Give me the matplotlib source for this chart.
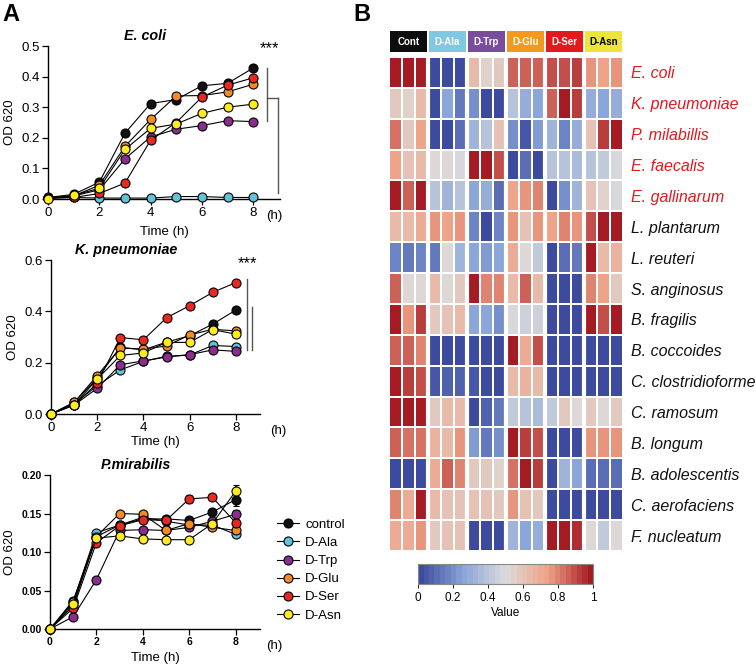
import numpy as np
import matplotlib
matplotlib.use("Agg")
import matplotlib.pyplot as plt
from matplotlib.colors import LinearSegmentedColormap
from matplotlib.patches import Rectangle
from matplotlib.lines import Line2D

plt.rcParams['font.family'] = ['Liberation Sans', 'DejaVu Sans']

# ---------------- Panel A data ----------------
hours = [0, 1, 2, 3, 4, 5, 6, 7, 8]
groups = ["control", "D-Ala", "D-Trp", "D-Glu", "D-Ser", "D-Asn"]
group_colors = ["#111111", "#62C2D8", "#8B2D8E", "#F28A25", "#E8291F", "#FFEC1C"]

ecoli = {
    "control": [0.005, 0.015, 0.055, 0.215, 0.312, 0.325, 0.370, 0.378, 0.428],
    "D-Ala":   [0.003, 0.005, 0.003, 0.003, 0.003, 0.008, 0.008, 0.005, 0.005],
    "D-Trp":   [0.003, 0.010, 0.030, 0.131, 0.203, 0.228, 0.240, 0.256, 0.253],
    "D-Glu":   [0.003, 0.010, 0.045, 0.172, 0.260, 0.337, 0.338, 0.350, 0.375],
    "D-Ser":   [0.003, 0.005, 0.018, 0.052, 0.192, 0.250, 0.333, 0.372, 0.396],
    "D-Asn":   [0.000, 0.012, 0.035, 0.162, 0.231, 0.245, 0.280, 0.300, 0.310],
}
kpneu = {
    "control": [0.0, 0.045, 0.140, 0.260, 0.250, 0.280, 0.305, 0.350, 0.405],
    "D-Ala":   [0.0, 0.040, 0.110, 0.172, 0.205, 0.225, 0.230, 0.267, 0.263],
    "D-Trp":   [0.0, 0.035, 0.100, 0.192, 0.207, 0.222, 0.231, 0.250, 0.244],
    "D-Glu":   [0.0, 0.045, 0.150, 0.257, 0.253, 0.265, 0.308, 0.330, 0.324],
    "D-Ser":   [0.0, 0.035, 0.120, 0.298, 0.289, 0.375, 0.422, 0.474, 0.512],
    "D-Asn":   [0.0, 0.036, 0.136, 0.228, 0.238, 0.279, 0.279, 0.329, 0.311],
}
kpneu_err = {
    "D-Ala": [0, 0, 0, 0, 0, 0, 0, 0, 0.010],
    "D-Trp": [0, 0, 0, 0, 0, 0, 0, 0, 0.012],
}
pmira = {
    "control": [0.0, 0.037, 0.120, 0.135, 0.143, 0.143, 0.141, 0.152, 0.168],
    "D-Ala":   [0.0, 0.035, 0.125, 0.135, 0.145, 0.140, 0.135, 0.135, 0.123],
    "D-Trp":   [0.0, 0.016, 0.064, 0.128, 0.129, 0.128, 0.132, 0.140, 0.149],
    "D-Glu":   [0.0, 0.030, 0.120, 0.150, 0.149, 0.128, 0.137, 0.132, 0.128],
    "D-Ser":   [0.0, 0.027, 0.112, 0.134, 0.142, 0.141, 0.169, 0.171, 0.138],
    "D-Asn":   [0.0, 0.033, 0.118, 0.121, 0.117, 0.116, 0.116, 0.137, 0.179],
}
pmira_err = {
    "control": [0, 0, 0, 0, 0.005, 0.004, 0, 0, 0.008],
    "D-Trp":   [0, 0, 0, 0, 0, 0, 0, 0, 0.006],
    "D-Ser":   [0, 0, 0, 0, 0, 0, 0.005, 0, 0],
    "D-Asn":   [0, 0, 0, 0, 0, 0, 0, 0, 0.008],
}

# ---------------- Panel B data ----------------
species = ["E. coli", "K. pneumoniae", "P. milabillis", "E. faecalis", "E. gallinarum",
           "L. plantarum", "L. reuteri", "S. anginosus", "B. fragilis", "B. coccoides",
           "C. clostridioforme", "C. ramosum", "B. longum", "B. adolescentis",
           "C. aerofaciens", "F. nucleatum"]
pathogen_rows = 5
treatments = ["Cont", "D-Ala", "D-Trp", "D-Glu", "D-Ser", "D-Asn"]
treat_colors = ["#0d0d0d", "#7FC8E4", "#7A4C9E", "#F39A1E", "#E3191C", "#EEE53A"]
treat_text = ["white", "white", "white", "white", "white", "black"]

heat = np.array([
    [0.97, 0.98, 0.97, 0.02, 0.02, 0.02, 0.65, 0.55, 0.57, 0.87, 0.85, 0.87, 0.88, 0.88, 0.92, 0.75, 0.73, 0.75],
    [0.58, 0.54, 0.63, 0.03, 0.25, 0.15, 0.20, 0.03, 0.03, 0.38, 0.30, 0.28, 0.85, 0.97, 0.93, 0.30, 0.28, 0.30],
    [0.82, 0.57, 0.72, 0.03, 0.03, 0.10, 0.33, 0.38, 0.60, 0.20, 0.05, 0.22, 0.33, 0.18, 0.30, 0.60, 0.93, 0.97],
    [0.72, 0.60, 0.63, 0.52, 0.52, 0.47, 0.97, 0.97, 0.88, 0.03, 0.10, 0.03, 0.40, 0.38, 0.35, 0.40, 0.42, 0.48],
    [0.97, 0.85, 0.97, 0.38, 0.33, 0.38, 0.28, 0.30, 0.12, 0.73, 0.78, 0.80, 0.03, 0.20, 0.33, 0.60, 0.56, 0.48],
    [0.63, 0.63, 0.70, 0.78, 0.72, 0.78, 0.18, 0.03, 0.18, 0.77, 0.62, 0.78, 0.72, 0.80, 0.75, 0.88, 0.97, 0.97],
    [0.18, 0.13, 0.18, 0.15, 0.50, 0.33, 0.27, 0.22, 0.25, 0.70, 0.50, 0.42, 0.03, 0.10, 0.15, 0.97, 0.65, 0.68],
    [0.85, 0.52, 0.52, 0.65, 0.52, 0.57, 0.97, 0.80, 0.80, 0.65, 0.85, 0.65, 0.02, 0.02, 0.02, 0.80, 0.72, 0.57],
    [0.97, 0.78, 0.93, 0.57, 0.60, 0.63, 0.27, 0.25, 0.20, 0.48, 0.46, 0.46, 0.02, 0.02, 0.02, 0.97, 0.88, 0.97],
    [0.87, 0.85, 0.80, 0.02, 0.02, 0.02, 0.02, 0.02, 0.02, 0.97, 0.70, 0.90, 0.02, 0.02, 0.02, 0.02, 0.02, 0.02],
    [0.97, 0.93, 0.88, 0.05, 0.07, 0.07, 0.05, 0.03, 0.03, 0.65, 0.68, 0.65, 0.02, 0.02, 0.02, 0.02, 0.02, 0.02],
    [0.97, 0.97, 0.97, 0.57, 0.63, 0.63, 0.02, 0.08, 0.15, 0.42, 0.38, 0.35, 0.42, 0.57, 0.53, 0.57, 0.52, 0.57],
    [0.85, 0.82, 0.82, 0.68, 0.63, 0.75, 0.22, 0.13, 0.20, 0.97, 0.93, 0.88, 0.02, 0.02, 0.02, 0.75, 0.75, 0.78],
    [0.02, 0.02, 0.02, 0.70, 0.85, 0.80, 0.57, 0.57, 0.55, 0.82, 0.97, 0.93, 0.03, 0.33, 0.27, 0.12, 0.10, 0.12],
    [0.80, 0.70, 0.97, 0.63, 0.62, 0.60, 0.62, 0.60, 0.57, 0.75, 0.60, 0.57, 0.02, 0.02, 0.02, 0.02, 0.02, 0.02],
    [0.70, 0.70, 0.75, 0.57, 0.60, 0.60, 0.02, 0.02, 0.02, 0.33, 0.28, 0.30, 0.97, 0.97, 0.95, 0.52, 0.42, 0.52],
])

cmap = LinearSegmentedColormap.from_list(
    "bwr_soft", ["#3D4B9E", "#88A4D9", "#DCDCDC", "#EFA286", "#A51B24"], N=32)

fig = plt.figure(figsize=(7.56, 6.64), dpi=100)


def growth_panel(rect, data, err, title, title_x, ylim, yticks, yfmt, bold=False):
    ax = fig.add_axes(rect)
    for g, c in zip(groups, group_colors):
        e = err.get(g) if err else None
        ax.errorbar(hours, data[g], yerr=e, color="black", lw=0.8,
                    marker="o", ms=6.5, mfc=c, mec="black", mew=0.8,
                    capsize=2.5, elinewidth=1.2, clip_on=False, zorder=3,
                    label=g)
    ax.set_xlim(0, 9.05)
    ax.set_ylim(*ylim)
    ax.set_xticks([0, 2, 4, 6, 8])
    ax.set_yticks(yticks)
    ax.set_yticklabels([yfmt % v for v in yticks])
    for s in ["top", "right"]:
        ax.spines[s].set_visible(False)
    for s in ["left", "bottom"]:
        ax.spines[s].set_linewidth(1.0)
    w = "bold" if bold else "normal"
    fs = 7.5 if bold else 9.5
    ax.tick_params(length=4, width=0.9, labelsize=fs, pad=2)
    for lab in ax.get_xticklabels() + ax.get_yticklabels():
        lab.set_fontweight(w)
    ax.set_ylabel("OD 620", fontsize=9.5)
    ax.text(title_x, 1.02, title, transform=ax.transAxes, ha="center",
            va="bottom", fontsize=10.3, fontweight="bold", style="italic")
    return ax


# E. coli
ax1 = growth_panel([0.0635, 0.7003, 0.307, 0.2304], ecoli, None, "E. coli", 0.42,
                   (0, 0.5), [0, 0.1, 0.2, 0.3, 0.4, 0.5], "%.1f")
ax1.set_xlabel("Time (h)", fontsize=9.5, labelpad=5)
ax1.text(0.975, -0.072, "(h)", transform=ax1.transAxes, ha="center", va="top", fontsize=9.5)
ax1.plot([8.52, 8.52], [0.255, 0.428], color="#555555", lw=1, clip_on=False)
ax1.plot([8.52, 8.98], [0.33, 0.33], color="#555555", lw=1, clip_on=False)
ax1.plot([8.98, 8.98], [0.02, 0.33], color="#555555", lw=1, clip_on=False)
ax1.text(8.65, 0.49, "***", ha="center", va="center", fontsize=12)

# K. pneumoniae
ax2 = growth_panel([0.0675, 0.3765, 0.2765, 0.2319], kpneu, kpneu_err, "K. pneumoniae", 0.36,
                   (0, 0.6), [0, 0.2, 0.4, 0.6], "%.1f")
ax2.set_xlabel("Time (h)", fontsize=9.5, labelpad=1)
ax2.text(1.086, -0.072, "(h)", transform=ax2.transAxes, ha="center", va="top", fontsize=9.5)
ax2.plot([8.48, 8.48], [0.249, 0.526], color="#555555", lw=1, clip_on=False)
ax2.plot([8.69, 8.69], [0.249, 0.417], color="#555555", lw=1, clip_on=False)
ax2.text(8.5, 0.585, "***", ha="center", va="center", fontsize=12)

# P. mirabilis
ax3 = growth_panel([0.0661, 0.0527, 0.2778, 0.2319], pmira, pmira_err, "P.mirabilis", 0.41,
                   (0, 0.2), [0, 0.05, 0.10, 0.15, 0.20], "%.2f", bold=True)
ax3.set_xlabel("Time (h)", fontsize=9.5, labelpad=3)
ax3.text(1.067, -0.072, "(h)", transform=ax3.transAxes, ha="center", va="top", fontsize=9.5)
handles = [Line2D([], [], color="black", lw=0.8, marker="o", ms=6.5, mfc=c,
                  mec="black", mew=0.8) for c in group_colors]
fig.legend(handles, groups, loc="upper left", bbox_to_anchor=(0.36, 0.227),
           frameon=False, fontsize=9.5, handlelength=1.6, handletextpad=0.5,
           labelspacing=0.45, borderaxespad=0)

# ---------------- Panel B heatmap ----------------
axh = fig.add_axes([0.5146, 0.1702, 0.3095, 0.744])
axh.pcolormesh(heat, cmap=cmap, vmin=0, vmax=1, edgecolors="white", linewidth=1.2)
axh.set_xlim(0, heat.shape[1])
axh.set_ylim(heat.shape[0], 0)
for k in range(1, len(treatments)):
    axh.axvline(3 * k, color="white", lw=3)
for s in axh.spines.values():
    s.set_visible(False)
axh.set_xticks([])
axh.yaxis.tick_right()
axh.set_yticks(np.arange(len(species)) + 0.5)
axh.set_yticklabels(species, fontsize=11.5, style="italic")
axh.tick_params(axis="y", length=0, pad=6)
for i, lab in enumerate(axh.get_yticklabels()):
    lab.set_color("#E3191C" if i < pathogen_rows else "#111111")

for k, (t, c, tc) in enumerate(zip(treatments, treat_colors, treat_text)):
    axh.add_patch(Rectangle((3 * k + 0.05, -0.84), 2.9, 0.68, facecolor=c,
                            edgecolor="none", clip_on=False))
    axh.text(3 * k + 1.5, -0.5, t, ha="center", va="center", color=tc,
             fontsize=7, fontweight="bold")

cax = fig.add_axes([0.553, 0.1205, 0.2315, 0.030])
sm = plt.cm.ScalarMappable(cmap=cmap, norm=plt.Normalize(0, 1))
cb = fig.colorbar(sm, cax=cax, orientation="horizontal")
cb.set_ticks([0, 0.2, 0.4, 0.6, 0.8, 1])
cb.set_ticklabels(["0", "0.2", "0.4", "0.6", "0.8", "1"])
cb.outline.set_edgecolor("#888888")
cb.outline.set_linewidth(0.8)
cax.tick_params(labelsize=8.5, length=3, width=0.6, pad=3)
cb.set_label("Value", fontsize=8.5, labelpad=2)

fig.text(0.003, 0.995, "A", fontsize=17, fontweight="bold", va="top")
fig.text(0.468, 0.995, "B", fontsize=17, fontweight="bold", va="top")

fig.savefig("out.png", dpi=100)
